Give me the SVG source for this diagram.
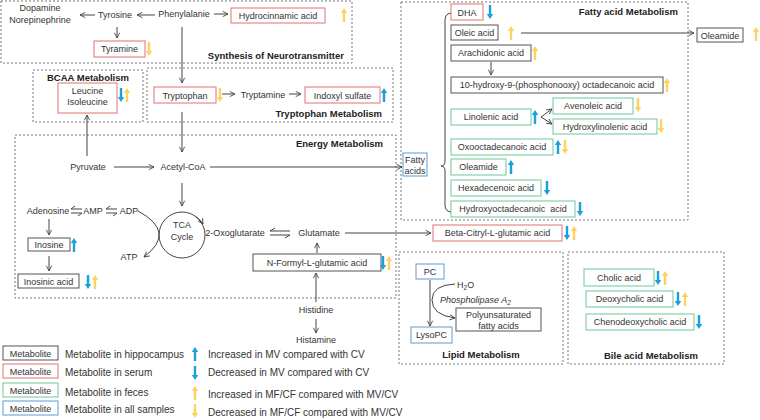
<svg xmlns="http://www.w3.org/2000/svg" width="760" height="420" viewBox="0 0 760 420">
<style>
text{font-family:"Liberation Sans",Arial,sans-serif;font-size:9px;fill:#333}
.c{text-anchor:middle}
.e{text-anchor:end}
.ttl{font-weight:bold;font-size:9.5px;fill:#222}
.lg{font-size:10px}
.bx{fill:#fff;stroke:#555;stroke-width:1}
.rd{stroke:#e07272}
.gn{stroke:#6cc79a}
.bl{stroke:#5b9bd5}
.rg{fill:none;stroke:#777;stroke-width:1;stroke-dasharray:2 2}
.ln{fill:none;stroke:#444;stroke-width:1}
.B{fill:#1aa0dc}
.Y{fill:#fdd262}
</style>
<defs>
<marker id="ah" viewBox="0 0 8 8" refX="7" refY="4" markerWidth="7" markerHeight="7" orient="auto" markerUnits="userSpaceOnUse"><path d="M1,1 L7,4 L1,7" fill="none" stroke="#444" stroke-width="1"/></marker>
<path id="up" d="M0,0 L3.2,5 L1.2,5 L1.2,14 L-1.2,14 L-1.2,5 L-3.2,5 Z"/>
<path id="dn" d="M0,14 L3.2,9 L1.2,9 L1.2,0 L-1.2,0 L-1.2,9 L-3.2,9 Z"/>
</defs>

<g id="regions">
<rect class="rg" x="1" y="1" width="351" height="62"/>
<rect class="rg" x="33" y="70" width="110" height="52"/>
<rect class="rg" x="147" y="68" width="246" height="54"/>
<rect class="rg" x="15" y="135" width="381" height="163"/>
<rect class="rg" x="401" y="2" width="287" height="218"/>
<rect class="rg" x="399" y="252" width="164" height="112"/>
<rect class="rg" x="568" y="252" width="156" height="112"/>
<text class="ttl e" x="344" y="59">Synthesis of Neurotransmitter</text>
<text class="ttl c" x="88" y="81">BCAA Metabolism</text>
<text class="ttl e" x="382" y="117">Tryptophan Metabolism</text>
<text class="ttl e" x="383" y="147">Energy Metabolism</text>
<text class="ttl e" x="678" y="15">Fatty acid Metabolism</text>
<text class="ttl c" x="481" y="358">Lipid Metabolism</text>
<text class="ttl c" x="651" y="359">Bile acid Metabolism</text>
</g>

<g id="connectors">
<line class="ln" x1="95" y1="15" x2="80" y2="15" marker-end="url(#ah)"/>
<line class="ln" x1="155" y1="15" x2="137" y2="15" marker-end="url(#ah)"/>
<line class="ln" x1="214" y1="14" x2="228" y2="14" marker-end="url(#ah)"/>
<line class="ln" x1="117" y1="27" x2="117" y2="38" marker-end="url(#ah)"/>
<line class="ln" x1="182" y1="27" x2="182" y2="83" marker-end="url(#ah)"/>
<line class="ln" x1="222" y1="94" x2="235" y2="94" marker-end="url(#ah)"/>
<line class="ln" x1="289" y1="94" x2="301" y2="94" marker-end="url(#ah)"/>
<line class="ln" x1="182" y1="112" x2="182" y2="152" marker-end="url(#ah)"/>
<line class="ln" x1="87" y1="156" x2="87" y2="115" marker-end="url(#ah)"/>
<line class="ln" x1="114" y1="167" x2="154" y2="167" marker-end="url(#ah)"/>
<line class="ln" x1="210" y1="167" x2="402" y2="167" marker-end="url(#ah)"/>
<line class="ln" x1="182" y1="183" x2="182" y2="206" marker-end="url(#ah)"/>
<circle class="ln" cx="182" cy="235" r="23"/>
<path class="ln" d="M195,216 Q200,219 203,224" marker-end="url(#ah)"/>
<path class="ln" d="M138,211 Q177,232 144,257" marker-end="url(#ah)"/>
<path class="ln" d="M71,209 L82,209 M71,209 L75,206 M71,213 L82,213 M82,213 L78,216"/>
<path class="ln" d="M106,209 L117,209 M106,209 L110,206 M106,213 L117,213 M117,213 L113,216"/>
<path class="ln" d="M270,231 L290,231 M270,231 L275,228 M270,235 L290,235 M290,235 L285,238"/>
<line class="ln" x1="345" y1="233" x2="431" y2="233" marker-end="url(#ah)"/>
<line class="ln" x1="317" y1="253" x2="317" y2="243" marker-end="url(#ah)"/>
<line class="ln" x1="49" y1="219" x2="49" y2="235" marker-end="url(#ah)"/>
<line class="ln" x1="49" y1="256" x2="49" y2="271" marker-end="url(#ah)"/>
<line class="ln" x1="316" y1="302" x2="316" y2="273" marker-end="url(#ah)"/>
<line class="ln" x1="316" y1="319" x2="316" y2="333" marker-end="url(#ah)"/>
<line class="ln" x1="521" y1="33" x2="694" y2="33" marker-end="url(#ah)"/>
<line class="ln" x1="491" y1="62" x2="491" y2="75" marker-end="url(#ah)"/>
<line class="ln" x1="541" y1="117" x2="552" y2="109" marker-end="url(#ah)"/>
<line class="ln" x1="541" y1="117" x2="552" y2="124" marker-end="url(#ah)"/>
<path class="ln" d="M452,13 Q445,13 445,20 L445,161 Q445,166 441,166 Q445,166 445,171 L445,205 Q445,212 452,212"/>
<line class="ln" x1="430" y1="280" x2="430" y2="326" marker-end="url(#ah)"/>
<path class="ln" d="M455,284 Q432,285 432,300 Q432,315 455,318" marker-end="url(#ah)"/>
</g>

<g id="n-dopamine"><text class="c" x="40" y="11">Dopamine</text><text class="c" x="40" y="23">Norepinephrine</text></g>
<g id="n-tyrosine"><text class="c" x="115" y="18">Tyrosine</text></g>
<g id="n-phenylalanie"><text class="c" x="184" y="17">Phenylalanie</text></g>
<g id="n-hydrocinnamic"><rect class="bx rd" x="231" y="8" width="94" height="15"/><text class="c" x="278" y="19">Hydrocinnamic acid</text><use href="#up" class="Y" x="344" y="8"/></g>
<g id="n-tyramine"><rect class="bx rd" x="94" y="41" width="51" height="16"/><text class="c" x="119.5" y="52">Tyramine</text><use href="#dn" class="Y" x="149" y="42"/></g>
<g id="n-leucine"><rect class="bx rd" x="58" y="83" width="59" height="30"/><text class="c" x="87.5" y="94">Leucine</text><text class="c" x="87.5" y="105">Isoleucine</text><use href="#dn" class="B" x="121" y="88"/><use href="#up" class="Y" x="127" y="88"/></g>
<g id="n-tryptophan"><rect class="bx rd" x="154" y="87" width="62" height="16"/><text class="c" x="185" y="98.5">Tryptophan</text><use href="#dn" class="Y" x="220" y="88"/></g>
<g id="n-tryptamine"><text class="c" x="263" y="98">Tryptamine</text></g>
<g id="n-indoxyl"><rect class="bx rd" x="305" y="87" width="75" height="16"/><text class="c" x="342.5" y="98.5">Indoxyl sulfate</text><use href="#up" class="B" x="384" y="88"/></g>

<g id="n-pyruvate"><text class="c" x="88" y="170">Pyruvate</text></g>
<g id="n-acetylcoa"><text class="c" x="183" y="170">Acetyl-CoA</text></g>
<g id="n-adenosine"><text class="c" x="48" y="214">Adenosine</text></g>
<g id="n-amp"><text class="c" x="93" y="214">AMP</text></g>
<g id="n-adp"><text class="c" x="129" y="214">ADP</text></g>
<g id="n-atp"><text class="c" x="129" y="260">ATP</text></g>
<g id="n-tca"><text class="c" x="182" y="228">TCA</text><text class="c" x="182" y="240">Cycle</text></g>
<g id="n-oxoglutarate"><text class="c" x="235" y="236">2-Oxoglutarate</text></g>
<g id="n-glutamate"><text class="c" x="319" y="236">Glutamate</text></g>
<g id="n-nformyl"><rect class="bx" x="253" y="254" width="128" height="17"/><text class="c" x="317" y="266">N-Formyl-L-glutamic acid</text><use href="#dn" class="B" x="383" y="256"/><use href="#up" class="Y" x="389" y="256"/></g>
<g id="n-inosine"><rect class="bx" x="28" y="238" width="42" height="13"/><text class="c" x="49" y="248">Inosine</text><use href="#up" class="B" x="74" y="238"/></g>
<g id="n-inosinic"><rect class="bx" x="18" y="274" width="61" height="14"/><text class="c" x="48.5" y="284.5">Inosinic acid</text><use href="#dn" class="B" x="88" y="275"/><use href="#up" class="Y" x="95" y="275"/></g>
<g id="n-histidine"><text class="c" x="316" y="313">Histidine</text></g>
<g id="n-histamine"><text class="c" x="316" y="343">Histamine</text></g>

<g id="n-fattyacids"><rect class="bx bl" x="403" y="153" width="24" height="23"/><text class="c" x="415" y="163">Fatty</text><text class="c" x="415" y="174">acids</text></g>
<g id="n-dha"><rect class="bx rd" x="451" y="4" width="32" height="16"/><text class="c" x="467" y="15.5">DHA</text><use href="#dn" class="B" x="490" y="5"/></g>
<g id="n-oleic"><rect class="bx" x="451" y="25" width="47" height="15"/><text class="c" x="474.5" y="36">Oleic acid</text><use href="#up" class="Y" x="511" y="26"/></g>
<g id="n-oleamide1"><rect class="bx" x="697" y="28" width="46" height="14"/><text class="c" x="720" y="38.5">Oleamide</text><use href="#up" class="Y" x="756" y="27"/></g>
<g id="n-arachidonic"><rect class="bx" x="451" y="45" width="80" height="16"/><text class="c" x="491" y="56">Arachidonic acid</text><use href="#up" class="Y" x="535" y="46"/></g>
<g id="n-hydroxyphos"><rect class="bx" x="451" y="77" width="212" height="16"/><text class="c" x="557" y="88">10-hydroxy-9-(phosphonooxy) octadecanoic acid</text><use href="#up" class="Y" x="667" y="78"/></g>
<g id="n-linolenic"><rect class="bx gn" x="451" y="109" width="80" height="16"/><text class="c" x="491" y="120">Linolenic acid</text><use href="#up" class="B" x="535" y="110"/></g>
<g id="n-avenoleic"><rect class="bx gn" x="553" y="98" width="80" height="16"/><text class="c" x="593" y="109">Avenoleic acid</text><use href="#dn" class="Y" x="638" y="98"/></g>
<g id="n-hydroxylinolenic"><rect class="bx gn" x="553" y="119" width="104" height="15"/><text class="c" x="605" y="130">Hydroxylinolenic acid</text><use href="#dn" class="Y" x="661" y="119"/></g>
<g id="n-oxooctadecanoic"><rect class="bx gn" x="451" y="139" width="102" height="16"/><text class="c" x="502" y="150">Oxooctadecanoic acid</text><use href="#up" class="B" x="558" y="140"/><use href="#dn" class="Y" x="565" y="140"/></g>
<g id="n-oleamide2"><rect class="bx gn" x="451" y="159" width="55" height="16"/><text class="c" x="478.5" y="170">Oleamide</text><use href="#up" class="B" x="511" y="160"/></g>
<g id="n-hexadecenoic"><rect class="bx gn" x="451" y="180" width="90" height="16"/><text class="c" x="496" y="191">Hexadecenoic acid</text><use href="#dn" class="B" x="547" y="181"/></g>
<g id="n-hydroxyoctadecanoic"><rect class="bx gn" x="451" y="201" width="124" height="16"/><text class="c" x="513" y="212" xml:space="preserve">Hydroxyoctadecanoic  acid</text><use href="#dn" class="B" x="580" y="202"/></g>
<g id="n-betacitryl"><rect class="bx rd" x="433" y="225" width="129" height="16"/><text class="c" x="497.5" y="236">Beta-Citryl-L-glutamic acid</text><use href="#dn" class="B" x="567" y="226"/><use href="#up" class="Y" x="574" y="226"/></g>

<g id="n-pc"><rect class="bx bl" x="416" y="264" width="28" height="15"/><text class="c" x="430" y="275">PC</text></g>
<g id="n-lysopc"><rect class="bx bl" x="411" y="327" width="41" height="16"/><text class="c" x="431.5" y="338">LysoPC</text></g>
<g id="n-h2o"><text x="457" y="288">H<tspan font-size="6.5" dy="2">2</tspan><tspan dy="-2">O</tspan></text></g>
<g id="n-pla2"><text x="440" y="303" font-style="italic">Phospholipase A<tspan font-size="6.5" dy="2">2</tspan></text></g>
<g id="n-pufa"><rect class="bx" x="456" y="308" width="85" height="23"/><text class="c" x="498.5" y="318">Polyunsaturated</text><text class="c" x="498.5" y="329">fatty acids</text></g>

<g id="n-cholic"><rect class="bx gn" x="584" y="269" width="70" height="17"/><text class="c" x="619" y="281">Cholic acid</text><use href="#dn" class="B" x="658" y="271"/><use href="#up" class="Y" x="665" y="271"/></g>
<g id="n-deoxycholic"><rect class="bx gn" x="586" y="291" width="87" height="16"/><text class="c" x="629.5" y="302">Deoxycholic acid</text><use href="#dn" class="B" x="678" y="292"/><use href="#up" class="Y" x="685" y="292"/></g>
<g id="n-chenodeoxycholic"><rect class="bx gn" x="586" y="314" width="108" height="16"/><text class="c" x="640" y="325">Chenodeoxycholic acid</text><use href="#dn" class="B" x="699" y="315"/></g>

<g id="legend">
<rect class="bx" x="3" y="346" width="55" height="14"/><text class="c" x="30.5" y="356.5">Metabolite</text>
<rect class="bx rd" x="3" y="364" width="55" height="14"/><text class="c" x="30.5" y="374.5">Metabolite</text>
<rect class="bx gn" x="3" y="383" width="55" height="14"/><text class="c" x="30.5" y="393.5">Metabolite</text>
<rect class="bx bl" x="3" y="401" width="55" height="14"/><text class="c" x="30.5" y="411.5">Metabolite</text>
<text class="lg" x="65" y="357.5">Metabolite in hippocampus</text>
<text class="lg" x="65" y="375.5">Metabolite in serum</text>
<text class="lg" x="65" y="395.5">Metabolite in feces</text>
<text class="lg" x="65" y="412.5">Metabolite in all samples</text>
<use href="#up" class="B" x="195" y="347"/>
<use href="#dn" class="B" x="195" y="366"/>
<use href="#up" class="Y" x="195" y="386"/>
<use href="#dn" class="Y" x="195" y="404"/>
<text class="lg" x="208" y="357.5">Increased in MV compared with CV</text>
<text class="lg" x="208" y="375.5">Decreased in MV compared with CV</text>
<text class="lg" x="208" y="397.5">Increased in MF/CF compared with MV/CV</text>
<text class="lg" x="208" y="416">Decreased in MF/CF compared with MV/CV</text>
</g>
</svg>
